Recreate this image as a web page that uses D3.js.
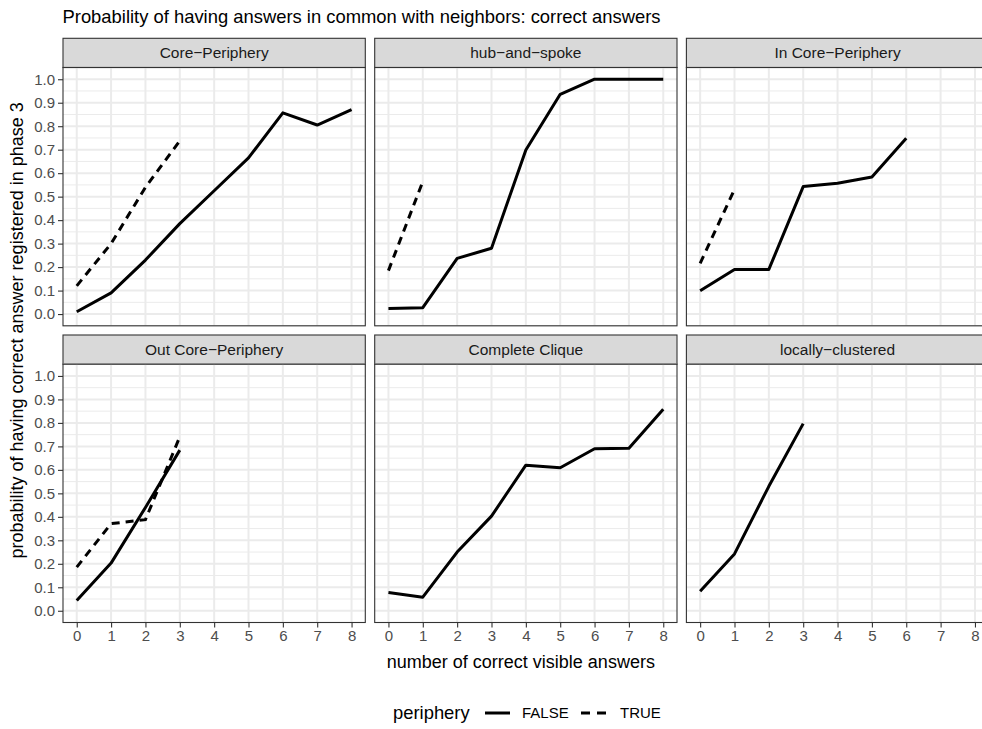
<!DOCTYPE html>
<html>
<head>
<meta charset="utf-8">
<script src="https://cdn.jsdelivr.net/npm/d3@7"></script>
<style>
  body { margin: 0; background: #fff; }
  svg { display: block; font-family: "Liberation Sans", Arial, sans-serif; }
</style>
</head>
<body>
<div id="chart"></div>
<script>
// facets in display order
const panelNames = ["Core−Periphery", "hub−and−spoke", "In Core−Periphery",
                    "Out Core−Periphery", "Complete Clique", "locally−clustered"];
const xTicks = [0, 1, 2, 3, 4, 5, 6, 7, 8];
const yTicks = [0.0, 0.1, 0.2, 0.3, 0.4, 0.5, 0.6, 0.7, 0.8, 0.9, 1.0];

// periphery = FALSE (solid), values for x = 0,1,2,...
const falseCorePeriphery    = [0.01, 0.09, 0.23, 0.385, 0.525, 0.665, 0.857, 0.805, 0.871];
const falseHubAndSpoke      = [0.024, 0.027, 0.237, 0.28, 0.699, 0.936, 1.0, 1.0, 1.0];
const falseInCorePeriphery  = [0.099, 0.19, 0.19, 0.543, 0.557, 0.584, 0.749];
const falseOutCorePeriphery = [0.044, 0.203, 0.44, 0.684];
const falseCompleteClique   = [0.078, 0.058, 0.25, 0.403, 0.62, 0.609, 0.69, 0.692, 0.858];
const falseLocallyClustered = [0.083, 0.242, 0.53, 0.797];

// periphery = TRUE (dashed)
const trueCorePeriphery    = [0.12, 0.30, 0.54, 0.738];
const trueHubAndSpoke      = [0.185, 0.564];
const trueInCorePeriphery  = [0.216, 0.531];
const trueOutCorePeriphery = [0.186, 0.371, 0.388, 0.741];
const trueCompleteClique   = [];
const trueLocallyClustered = [];

const falseSeries = [falseCorePeriphery, falseHubAndSpoke, falseInCorePeriphery,
                     falseOutCorePeriphery, falseCompleteClique, falseLocallyClustered];
const trueSeries  = [trueCorePeriphery, trueHubAndSpoke, trueInCorePeriphery,
                     trueOutCorePeriphery, trueCompleteClique, trueLocallyClustered];

const W = 982, H = 729;
const leftX = 63, topY = 38.3;
const colW = 302.3, colGap = 9.4;
const stripH = 29.2, panelH = 258.3, rowGap = 9.2;
const lineW = 3;
const tickFont = 15;

const svg = d3.select("#chart").append("svg")
    .attr("width", W)
    .attr("height", H);

svg.append("rect").attr("width", W).attr("height", H).attr("fill", "#fff");

const x = d3.scaleLinear().domain([-0.4, 8.4]).range([0, colW]);
const y = d3.scaleLinear().domain([-0.05, 1.05]).range([panelH, 0]);

const line = d3.line()
    .x((d, i) => x(i))
    .y(d => y(d));

// title
svg.append("text")
    .attr("x", leftX - 0.5)
    .attr("y", 23)
    .attr("font-size", 18.4)
    .attr("fill", "#000")
    .text("Probability of having answers in common with neighbors: correct answers");

panelNames.forEach(function(name, k) {
    let col = k % 3, row = Math.floor(k / 3);
    let px = leftX + col * (colW + colGap);
    let sy = topY + row * (stripH + panelH + rowGap);
    let py = sy + stripH;

    // strip
    svg.append("rect")
        .attr("x", px).attr("y", sy)
        .attr("width", colW).attr("height", stripH)
        .attr("fill", "#D9D9D9")
        .attr("stroke", "#333333")
        .attr("stroke-width", 1.1);
    svg.append("text")
        .attr("x", px + colW / 2).attr("y", sy + stripH / 2)
        .attr("dy", "0.35em")
        .attr("text-anchor", "middle")
        .attr("font-size", 15.5)
        .attr("fill", "#1A1A1A")
        .text(name);

    let g = svg.append("g").attr("transform", "translate(" + px + "," + py + ")");

    // minor grid
    g.selectAll(".minor")
        .data(d3.range(-0.05, 1.06, 0.1).map(v => +v.toFixed(2)))
        .enter().append("line")
        .attr("x1", 0).attr("x2", colW)
        .attr("y1", d => y(d)).attr("y2", d => y(d))
        .attr("stroke", "#EBEBEB").attr("stroke-width", 1);

    // major grid
    g.selectAll(".hgrid")
        .data(yTicks).enter().append("line")
        .attr("x1", 0).attr("x2", colW)
        .attr("y1", d => y(d)).attr("y2", d => y(d))
        .attr("stroke", "#EBEBEB").attr("stroke-width", 2);
    g.selectAll(".vgrid")
        .data(xTicks).enter().append("line")
        .attr("y1", 0).attr("y2", panelH)
        .attr("x1", d => x(d)).attr("x2", d => x(d))
        .attr("stroke", "#EBEBEB").attr("stroke-width", 2);

    // series
    g.append("path")
        .datum(falseSeries[k])
        .attr("d", line)
        .attr("fill", "none")
        .attr("stroke", "#000")
        .attr("stroke-width", lineW)
        .attr("stroke-linejoin", "round");
    if (trueSeries[k].length > 1) {
        g.append("path")
            .datum(trueSeries[k])
            .attr("d", line)
            .attr("fill", "none")
            .attr("stroke", "#000")
            .attr("stroke-width", lineW)
            .attr("stroke-dasharray", "8,6");
    }

    // panel border
    g.append("rect")
        .attr("width", colW).attr("height", panelH)
        .attr("fill", "none")
        .attr("stroke", "#333333")
        .attr("stroke-width", 1.1);

    // y axis on left column
    if (col === 0) {
        let ya = g.append("g")
            .call(d3.axisLeft(y).tickValues(yTicks).tickFormat(d3.format(".1f")).tickSize(5).tickPadding(3));
        ya.select(".domain").remove();
        ya.selectAll("line").attr("stroke", "#333333").attr("stroke-width", 1.1);
        ya.selectAll("text").attr("fill", "#4D4D4D").attr("font-size", tickFont)
            .attr("font-family", "Liberation Sans, Arial, sans-serif");
    }
    // x axis on bottom row
    if (row === 1) {
        let xa = g.append("g")
            .attr("transform", "translate(0," + panelH + ")")
            .call(d3.axisBottom(x).tickValues(xTicks).tickFormat(d3.format("d")).tickSize(5).tickPadding(3));
        xa.select(".domain").remove();
        xa.selectAll("line").attr("stroke", "#333333").attr("stroke-width", 1.1);
        xa.selectAll("text").attr("fill", "#4D4D4D").attr("font-size", tickFont)
            .attr("font-family", "Liberation Sans, Arial, sans-serif");
    }
});

// axis titles
let panelsRight = leftX + 3 * colW + 2 * colGap;
let bottomY = topY + 2 * (stripH + panelH) + rowGap;
svg.append("text")
    .attr("x", (leftX + panelsRight) / 2 - 5)
    .attr("y", bottomY + 45)
    .attr("text-anchor", "middle")
    .attr("font-size", 18)
    .attr("fill", "#000")
    .text("number of correct visible answers");
svg.append("text")
    .attr("transform", "translate(23," + ((topY + bottomY) / 2) + ") rotate(-90)")
    .attr("text-anchor", "middle")
    .attr("font-size", 18)
    .attr("fill", "#000")
    .text("probability of having correct answer registered in phase 3");

// legend
let legY = 713;
let leg = svg.append("g");
leg.append("text")
    .attr("x", 393).attr("y", legY).attr("dy", "0.35em")
    .attr("font-size", 18.4).attr("fill", "#000")
    .text("periphery");
leg.append("line")
    .attr("x1", 485).attr("x2", 510).attr("y1", legY).attr("y2", legY)
    .attr("stroke", "#000").attr("stroke-width", lineW);
leg.append("text")
    .attr("x", 522).attr("y", legY).attr("dy", "0.35em")
    .attr("font-size", 15).attr("fill", "#000")
    .text("FALSE");
leg.append("line")
    .attr("x1", 581).attr("x2", 606).attr("y1", legY).attr("y2", legY)
    .attr("stroke", "#000").attr("stroke-width", lineW)
    .attr("stroke-dasharray", "9,7");
leg.append("text")
    .attr("x", 620).attr("y", legY).attr("dy", "0.35em")
    .attr("font-size", 15).attr("fill", "#000")
    .text("TRUE");
</script>
</body>
</html>
